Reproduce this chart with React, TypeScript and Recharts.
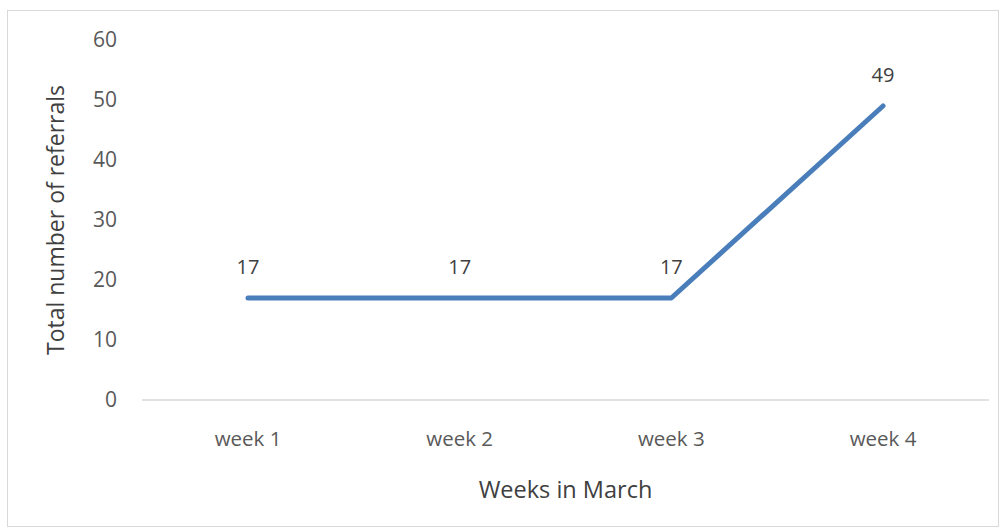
import React from "react";
import { LineChart, Line, XAxis, YAxis, CartesianGrid, LabelList } from "recharts";

const weeks = ["week 1", "week 2", "week 3", "week 4"];
const referrals = [17, 17, 17, 49];
const yTicks = [0, 10, 20, 30, 40, 50, 60];

const data = weeks.map((w, i) => ({ week: w, referrals: referrals[i] }));

const FONT = "'Open Sans', 'DejaVu Sans', sans-serif";

export default function App() {
  return (
    <div style={{ position: "absolute", left: 0, top: 0, width: 1003, height: 531, background: "#fff" }}>
      <div
        style={{
          position: "absolute",
          left: 7,
          top: 10,
          width: 992,
          height: 517,
          border: "1px solid #d9d9d9",
          boxSizing: "border-box",
        }}
      />
      <div style={{ position: "absolute", left: 0, top: 0 }}>
        <LineChart
          width={1003}
          height={531}
          data={data}
          margin={{ top: 40, right: 14, bottom: 0, left: 0 }}
          style={{ fontFamily: FONT }}
        >
          <CartesianGrid horizontal={false} vertical={false} />
          <XAxis
            dataKey="week"
            height={131}
            padding={{ left: 106, right: 106 }}
            tickLine={false}
            tickSize={0}
            tickMargin={31}
            axisLine={{ stroke: "#d9d9d9", strokeWidth: 1.5 }}
            tick={{ fill: "#595959", fontSize: 20.5, fontFamily: FONT }}
            label={{
              value: "Weeks in March",
              position: "insideBottom",
              offset: 33,
              fill: "#404040",
              fontSize: 23.5,
              fontFamily: FONT,
            }}
          />
          <YAxis
            width={142}
            domain={[0, 60]}
            ticks={yTicks}
            interval={0}
            tickLine={false}
            tickSize={0}
            tickMargin={25}
            axisLine={false}
            tick={{ fill: "#595959", fontSize: 21, fontFamily: FONT }}
            label={{
              value: "Total number of referrals",
              angle: -90,
              position: "insideLeft",
              offset: 56,
              style: { textAnchor: "middle" },
              fill: "#404040",
              fontSize: 23,
              fontFamily: FONT,
            }}
          />
          <Line
            type="linear"
            dataKey="referrals"
            stroke="#4a7ebb"
            strokeWidth={5}
            strokeLinecap="round"
            strokeLinejoin="round"
            dot={false}
            activeDot={false}
            isAnimationActive={false}
          >
            <LabelList
              dataKey="referrals"
              position="top"
              offset={24}
              fill="#404040"
              fontSize={20}
              fontFamily={FONT}
            />
          </Line>
        </LineChart>
      </div>
    </div>
  );
}
